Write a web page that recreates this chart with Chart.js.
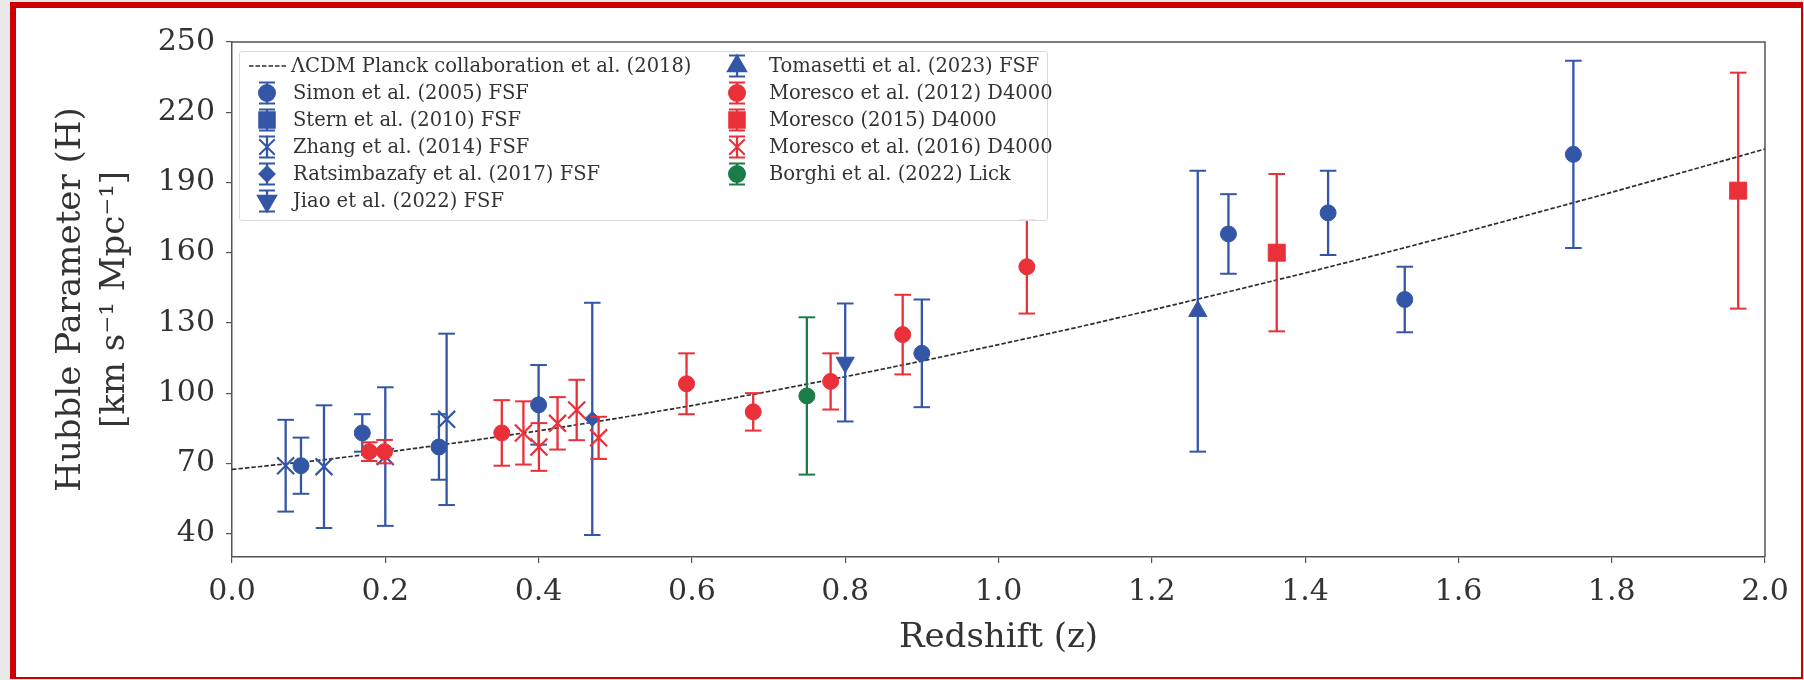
<!DOCTYPE html>
<html><head><meta charset="utf-8">
<script src="https://cdn.jsdelivr.net/npm/chart.js@4.4.1/dist/chart.umd.min.js"></script>
<style>
html,body{margin:0;padding:0;background:#e8e8e8;width:1804px;height:680px;overflow:hidden;}
#frame{position:absolute;left:10px;top:2px;width:1793px;height:677px;box-sizing:border-box;background:#fff;border-style:solid;border-color:#cc0000;border-width:6px 2px 2px 6px;}
#c{position:absolute;left:0;top:0;}
#legend{position:absolute;left:239px;top:51px;width:809px;height:170px;box-sizing:border-box;border:1px solid #d9d9d9;border-radius:3px;background:rgba(255,255,255,0.85);font-family:'DejaVu Serif',serif;font-size:19.5px;color:#333;}
.li{position:absolute;height:28px;white-space:nowrap;}
.li canvas{position:absolute;left:0;top:0;}
.li span{position:absolute;left:52px;top:0;line-height:28px;}
</style></head>
<body>
<div id="frame"></div>
<canvas id="c" width="1804" height="680"></canvas>
<div id="legend"></div>
<script>
// ---------------- data ----------------
const xTicks = [0, 0.2, 0.4, 0.6, 0.8, 1.0, 1.2, 1.4, 1.6, 1.8, 2.0];
const yTicks = [40, 70, 100, 130, 160, 190, 220, 250];

const lcdmZ = [0, 0.1, 0.2, 0.3, 0.4, 0.5, 0.6, 0.7, 0.8, 0.9, 1.0, 1.1, 1.2, 1.3, 1.4, 1.5, 1.6, 1.7, 1.8, 1.9, 2.0];
const lcdmH = [67.4, 70.8, 74.7, 79.1, 83.9, 89.1, 94.7, 100.7, 107.0, 113.7, 120.7, 127.9, 135.5, 143.3, 151.3, 159.6, 168.1, 176.9, 185.8, 195.0, 204.3];

const simonZ = [0.09, 0.17, 0.27, 0.4, 0.9, 1.3, 1.43, 1.53, 1.75];
const simonH = [69, 83, 77, 95, 117, 168, 177, 140, 202];
const simonErr = [12, 8, 14, 17, 23, 17, 18, 14, 40];

const sternZ = [];
const sternH = [];
const sternErr = [];

const zhangZ = [0.07, 0.12, 0.2, 0.28];
const zhangH = [69, 68.6, 72.9, 88.8];
const zhangErr = [19.6, 26.2, 29.6, 36.6];

const ratsZ = [0.47];
const ratsH = [89];
const ratsErr = [49.6];

const jiaoZ = [0.8];
const jiaoH = [113.1];
const jiaoErr = [25.2];

const tomaZ = [1.26];
const tomaH = [135];
const tomaErr = [60];

const mor12Z = [0.179, 0.199, 0.352, 0.593, 0.68, 0.781, 0.875, 1.037];
const mor12H = [75, 75, 83, 104, 92, 105, 125, 154];
const mor12Err = [4, 5, 14, 13, 8, 12, 17, 20];

const mor15Z = [1.363, 1.965];
const mor15H = [160, 186.5];
const mor15Err = [33.6, 50.4];

const mor16Z = [0.3802, 0.4004, 0.4247, 0.4497, 0.4783];
const mor16H = [83, 77, 87.1, 92.8, 80.9];
const mor16Err = [13.5, 10.2, 11.2, 12.9, 9];

const borghiZ = [0.75];
const borghiH = [98.8];
const borghiErr = [33.6];

// ---------------- styles ----------------
const BLUE = '#3456a6', RED = '#ea3038', GREEN = '#1a7d47', LINEC = '#2e2e2e';
const FONT = "'DejaVu Serif', serif";

const series = [
  {label: 'Simon et al. (2005) FSF', z: simonZ, h: simonH, e: simonErr, color: BLUE, style: 'circle', r: 8, rot: 0},
  {label: 'Stern et al. (2010) FSF', z: sternZ, h: sternH, e: sternErr, color: BLUE, style: 'rect', r: 12, rot: 0},
  {label: 'Zhang et al. (2014) FSF', z: zhangZ, h: zhangH, e: zhangErr, color: BLUE, style: 'crossRot', r: 12, rot: 0},
  {label: 'Ratsimbazafy et al. (2017) FSF', z: ratsZ, h: ratsH, e: ratsErr, color: BLUE, style: 'rectRot', r: 7.5, rot: 0},
  {label: 'Jiao et al. (2022) FSF', z: jiaoZ, h: jiaoH, e: jiaoErr, color: BLUE, style: 'triangle', r: 10.5, rot: 180},
  {label: 'Tomasetti et al. (2023) FSF', z: tomaZ, h: tomaH, e: tomaErr, color: BLUE, style: 'triangle', r: 10.5, rot: 0},
  {label: 'Moresco et al. (2012) D4000', z: mor12Z, h: mor12H, e: mor12Err, color: RED, style: 'circle', r: 8, rot: 0},
  {label: 'Moresco (2015) D4000', z: mor15Z, h: mor15H, e: mor15Err, color: RED, style: 'rect', r: 12, rot: 0},
  {label: 'Moresco et al. (2016) D4000', z: mor16Z, h: mor16H, e: mor16Err, color: RED, style: 'crossRot', r: 12, rot: 0},
  {label: 'Borghi et al. (2022) Lick', z: borghiZ, h: borghiH, e: borghiErr, color: GREEN, style: 'circle', r: 8, rot: 0}
];

const datasets = [{
  label: 'ΛCDM Planck collaboration et al. (2018)',
  data: lcdmZ.map((z, i) => ({x: z, y: lcdmH[i]})),
  showLine: true, borderColor: LINEC, borderWidth: 1.7, borderDash: [4.5, 2],
  pointRadius: 0, order: 100, isModel: true
}];
series.forEach((s, k) => {
  const errData = [];
  s.z.forEach((z, i) => {
    errData.push({x: z, y: s.h[i] - s.e[i]});
    errData.push({x: z, y: s.h[i] + s.e[i]});
    errData.push({x: z, y: null});
  });
  datasets.push({
    label: s.label,
    data: s.z.map((z, i) => ({x: z, y: s.h[i]})),
    showLine: false, pointStyle: s.style, pointRadius: s.r, pointRotation: s.rot,
    backgroundColor: s.color, borderColor: s.color, pointBorderWidth: s.style === 'crossRot' ? 2.2 : 1,
    order: 40 - 2 * k, series: s
  });
  datasets.push({
    label: s.label + ' err',
    data: errData, showLine: true, spanGaps: false,
    borderColor: s.color, borderWidth: 2.3,
    pointStyle: 'line', pointRadius: 8.3, pointBorderWidth: 2, pointBorderColor: s.color,
    order: 41 - 2 * k, isErr: true
  });
});

const spines = {
  id: 'spines',
  beforeDatasetsDraw(chart) {
    const {ctx, chartArea: a} = chart;
    ctx.save();
    ctx.strokeStyle = '#555'; ctx.lineWidth = 1.5;
    ctx.beginPath();
    ctx.moveTo(a.left, a.top); ctx.lineTo(a.right, a.top); ctx.lineTo(a.right, a.bottom);
    ctx.stroke();
    ctx.restore();
  }
};

function drawMarker(ctx, st, x, y) {
  if (Chart.helpers && Chart.helpers.drawPoint) {
    Chart.helpers.drawPoint(ctx, {pointStyle: st.style, radius: st.r, rotation: st.rot, borderWidth: st.style === 'crossRot' ? 2.2 : 1}, x, y);
  }
}

const htmlLegend = {
  id: 'htmlLegend',
  afterUpdate(chart) {
    const box = document.getElementById('legend');
    box.innerHTML = '';
    const items = chart.data.datasets.filter(d => !d.isErr);
    items.forEach((d, i) => {
      const col = i < 6 ? 0 : 1;
      const row = col === 0 ? i : i - 6;
      const cx = col === 0 ? 27 : 497;
      const cy = 14 + 27 * row;
      const div = document.createElement('div');
      div.className = 'li';
      div.style.left = (cx - 20) + 'px';
      div.style.top = (cy - 14) + 'px';
      const cv = document.createElement('canvas');
      cv.width = 40; cv.height = 28;
      const c = cv.getContext('2d');
      if (d.isModel) {
        c.strokeStyle = d.borderColor; c.lineWidth = d.borderWidth;
        c.setLineDash(d.borderDash);
        c.beginPath(); c.moveTo(2, 14); c.lineTo(40, 14); c.stroke();
      } else {
        const s = d.series;
        c.strokeStyle = s.color; c.fillStyle = s.color;
        c.lineWidth = 2.3;
        c.beginPath(); c.moveTo(20, 3.5); c.lineTo(20, 24.5); c.stroke();
        c.lineWidth = 2;
        c.beginPath(); c.moveTo(12, 3.5); c.lineTo(28, 3.5); c.moveTo(12, 24.5); c.lineTo(28, 24.5); c.stroke();
        drawMarker(c, {style: s.style, r: s.style === 'rect' ? 11 : (s.style === 'crossRot' ? 11 : s.r), rot: s.rot}, 20, 14);
      }
      div.appendChild(cv);
      const sp = document.createElement('span');
      sp.textContent = d.label;
      sp.style.left = (d.isModel ? 44 : (col === 0 ? 46 : 52)) + 'px';
      div.appendChild(sp);
      box.appendChild(div);
    });
  }
};

new Chart(document.getElementById('c'), {
  type: 'scatter',
  data: {datasets},
  plugins: [spines, htmlLegend],
  options: {
    responsive: false, animation: false, events: [],
    layout: {padding: {top: 42, right: 39, left: 0, bottom: 0}},
    plugins: {legend: {display: false}, tooltip: {enabled: false}},
    scales: {
      x: {
        type: 'linear', min: 0, max: 2,
        afterBuildTicks: sc => { sc.ticks = xTicks.map(v => ({value: v})); },
        afterFit: sc => { sc.height = 123; },
        ticks: {autoSkip: false, maxRotation: 0, padding: 11, color: '#333', font: {family: FONT, size: 30}, callback: v => Number(v).toFixed(1)},
        grid: {drawOnChartArea: false, drawTicks: true, tickLength: 6, color: '#555', lineWidth: 1.2},
        border: {display: true, color: '#555', width: 1.5},
        title: {display: true, text: 'Redshift (z)', color: '#333', font: {family: FONT, size: 34}, padding: {top: 0, bottom: 21}}
      },
      y: {
        type: 'linear', min: 30, max: 250,
        afterBuildTicks: sc => { sc.ticks = yTicks.map(v => ({value: v})); },
        afterFit: sc => { sc.width = 232; },
        ticks: {autoSkip: false, padding: 11, color: '#333', font: {family: FONT, size: 30}},
        grid: {drawOnChartArea: false, drawTicks: true, tickLength: 6, color: '#555', lineWidth: 1.2},
        border: {display: true, color: '#555', width: 1.5},
        title: {display: true, text: ['Hubble Parameter (H)', '[km s⁻¹ Mpc⁻¹]'], color: '#333', font: {family: FONT, size: 34, lineHeight: 1.3}, padding: {top: 49, bottom: 0}}
      }
    }
  }
});
</script>
</body></html>
